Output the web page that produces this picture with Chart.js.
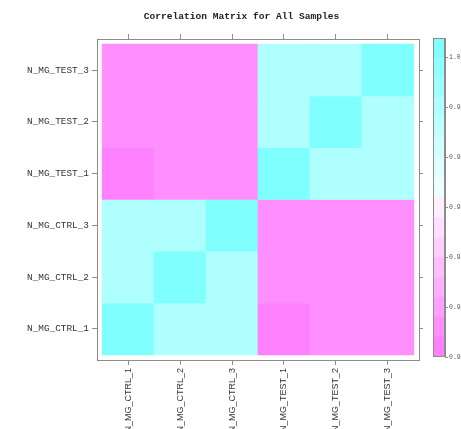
<!DOCTYPE html>
<html>
<head>
<meta charset="utf-8">
<script src="https://cdn.jsdelivr.net/npm/chart.js@4.4.1/dist/chart.umd.min.js"></script>
<style>
  html, body { margin: 0; padding: 0; background: #fff; overflow: hidden; }
  #wrap { position: relative; width: 461px; height: 429px; }
  #main { position: absolute; left: 0; top: 0; }
  #key  { position: absolute; left: 420px; top: 0; }
</style>
</head>
<body>
<div id="wrap">
  <canvas id="main" width="461" height="429"></canvas>
  <canvas id="key" width="41" height="429"></canvas>
</div>
<script>
// Sample names, bottom-to-top on the y axis and left-to-right on the x axis
const samples = ['N_MG_CTRL_1', 'N_MG_CTRL_2', 'N_MG_CTRL_3', 'N_MG_TEST_1', 'N_MG_TEST_2', 'N_MG_TEST_3'];

// Pearson correlation of each sample against every sample (same column order)
const rowCtrl1 = [1.000, 0.990, 0.990, 0.944, 0.947, 0.947];
const rowCtrl2 = [0.990, 1.000, 0.990, 0.947, 0.947, 0.947];
const rowCtrl3 = [0.990, 0.990, 1.000, 0.947, 0.947, 0.947];
const rowTest1 = [0.944, 0.947, 0.947, 1.000, 0.990, 0.990];
const rowTest2 = [0.947, 0.947, 0.947, 0.990, 1.000, 0.990];
const rowTest3 = [0.947, 0.947, 0.947, 0.990, 0.990, 1.000];

// Colour key tick values and the labels printed beside them
const keyTicks = [0.94, 0.95, 0.96, 0.97, 0.98, 0.99, 1.00];
const keyTickLabels = ['0.9', '0.9', '0.9', '0.9', '0.9', '0.9', '1.0'];

const rows = [rowCtrl1, rowCtrl2, rowCtrl3, rowTest1, rowTest2, rowTest3];

// Colour key range: data range padded by 7% on each side, split into 16 bands
const allVals = rows.flat();
const vMin = Math.min(...allVals), vMax = Math.max(...allVals);
const pad = 0.07 * (vMax - vMin);
const keyMin = vMin - pad, keyMax = vMax + pad;
const nBands = 16;
const bandWidth = (keyMax - keyMin) / nBands;

// Reversed cm.colors palette: magenta for low values, white mid, cyan for high
function bandColor(k) {
  const half = nBands / 2;
  if (k < half) {
    const s = (half - k) / nBands;
    const g = Math.round(255 * (1 - s));
    return `rgb(255,${g},255)`;
  }
  const s = (k - half + 1) / nBands;
  const r = Math.round(255 * (1 - s));
  return `rgb(${r},255,255)`;
}
function valueColor(v) {
  let k = Math.floor((v - keyMin) / bandWidth);
  k = Math.max(0, Math.min(nBands - 1, k));
  return bandColor(k);
}

// One floating bar per matrix cell
const cells = [];
const cellColors = [];
rows.forEach((row, r) => {
  row.forEach((v, c) => {
    cells.push({ x: c + 0.5, y: [r, r + 1] });
    cellColors.push(valueColor(v));
  });
});

const centers = samples.map((_, i) => i + 0.5);
const frameColor = '#8c8c8c';
const setCenterTicks = s => { s.ticks = centers.map(v => ({ value: v })); };
const nameAt = v => samples[Math.round(v - 0.5)];

new Chart(document.getElementById('main'), {
  type: 'bar',
  data: {
    datasets: [{
      data: cells,
      backgroundColor: cellColors,
      borderWidth: 0,
      barPercentage: 1,
      categoryPercentage: 1
    }]
  },
  options: {
    responsive: false,
    animation: false,
    devicePixelRatio: 1,
    layout: { padding: { left: 22, right: 0, top: 0, bottom: 0 } },
    plugins: {
      legend: { display: false },
      tooltip: { enabled: false },
      title: {
        display: true,
        text: 'Correlation Matrix for All Samples',
        color: '#222',
        font: { family: 'Liberation Mono', size: 9.6, weight: 'bold', lineHeight: 1.25 },
        padding: { top: 11, bottom: 6 }
      }
    },
    scales: {
      x: {
        type: 'linear', position: 'bottom', min: -0.1, max: 6.1, offset: false,
        afterBuildTicks: setCenterTicks,
        ticks: {
          callback: v => nameAt(v),
          minRotation: 90, maxRotation: 90, autoSkip: false, padding: 3,
          color: '#333', font: { family: 'Liberation Sans', size: 9 }
        },
        grid: { drawOnChartArea: false, offset: false, tickLength: 5, color: frameColor },
        border: { color: frameColor },
        afterFit: s => { s.height = 69; }
      },
      xTop: {
        type: 'linear', position: 'top', min: -0.1, max: 6.1, offset: false,
        afterBuildTicks: setCenterTicks,
        ticks: { display: false },
        grid: { drawOnChartArea: false, offset: false, tickLength: 5, color: frameColor },
        border: { color: frameColor },
        afterFit: s => { s.height = 10; }
      },
      y: {
        type: 'linear', position: 'left', min: -0.1, max: 6.1,
        afterBuildTicks: setCenterTicks,
        ticks: {
          callback: v => nameAt(v),
          autoSkip: false, padding: 3,
          color: '#333', font: { family: 'Liberation Mono', size: 9.4 }
        },
        grid: { drawOnChartArea: false, tickLength: 5, color: frameColor },
        border: { color: frameColor },
        afterFit: s => { s.width = 75; }
      },
      yRight: {
        type: 'linear', position: 'right', min: -0.1, max: 6.1,
        afterBuildTicks: setCenterTicks,
        ticks: { display: false },
        grid: { drawOnChartArea: false, tickLength: 4, color: frameColor },
        border: { color: frameColor },
        afterFit: s => { s.width = 42; }
      }
    }
  }
});

// Colour key: one floating bar per band
const bandSets = [];
for (let k = 0; k < nBands; k++) {
  bandSets.push({
    data: [[keyMin + k * bandWidth, keyMin + (k + 1) * bandWidth]],
    backgroundColor: bandColor(k),
    borderWidth: 0,
    grouped: false,
    barPercentage: 1,
    categoryPercentage: 1
  });
}

const keyFrame = {
  id: 'keyFrame',
  afterDatasetsDraw(chart) {
    const a = chart.chartArea, ctx = chart.ctx;
    ctx.save();
    ctx.strokeStyle = frameColor;
    ctx.lineWidth = 1;
    ctx.strokeRect(Math.round(a.left) + 0.5, Math.round(a.top) + 0.5,
                   Math.round(a.right - a.left) - 1, Math.round(a.bottom - a.top) - 1);
    ctx.restore();
  }
};

new Chart(document.getElementById('key'), {
  type: 'bar',
  data: { labels: ['key'], datasets: bandSets },
  plugins: [keyFrame],
  options: {
    responsive: false,
    animation: false,
    devicePixelRatio: 1,
    layout: { padding: { left: 13, right: 0, top: 38, bottom: 72 } },
    plugins: { legend: { display: false }, tooltip: { enabled: false } },
    scales: {
      x: { type: 'category', display: false },
      y: {
        type: 'linear', position: 'right', min: keyMin, max: keyMax,
        afterBuildTicks: s => { s.ticks = keyTicks.map(v => ({ value: v })); },
        ticks: {
          callback: (v, i) => keyTickLabels[i],
          autoSkip: false, padding: 1,
          color: '#555', font: { family: 'Liberation Mono', size: 6.5 }
        },
        grid: { drawOnChartArea: false, tickLength: 3, color: frameColor },
        border: { color: frameColor },
        afterFit: s => { s.width = 16; }
      }
    }
  }
});
</script>
</body>
</html>
